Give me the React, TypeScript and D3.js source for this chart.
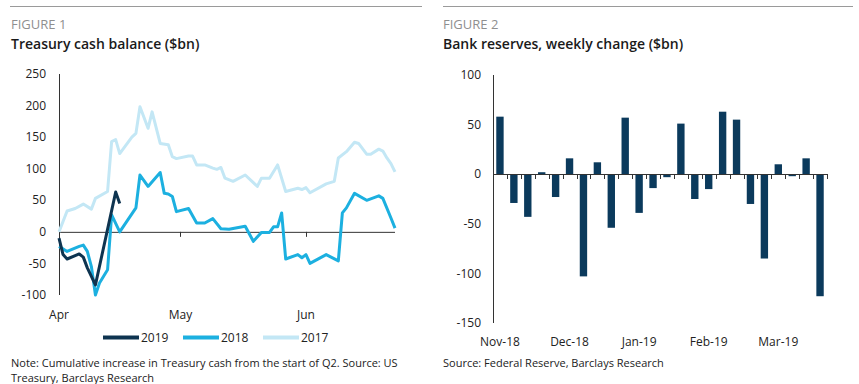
import React from "react";
import * as d3 from "d3";

const W = 859;
const H = 384;
const FONT = "'Open Sans', 'Noto Sans', sans-serif";

// Figure 1: days since 1 April, cumulative Treasury cash change ($bn)
const days2019 = [0, 1, 2, 5, 6, 7, 9, 14, 15];
const vals2019 = [-10, -36, -43, -35, -40, -57, -84, 63, 45];

const days2018 = [0, 2, 5, 6, 7, 8, 9, 10, 12, 13, 15, 19, 20, 22, 25, 26, 27, 28, 29, 32, 34, 36, 38, 40, 42, 46, 47, 48, 50, 52, 53, 54, 55, 56, 59, 60, 61, 62, 66, 69, 70, 71, 73, 76, 79, 80, 82, 83];
const vals2018 = [-23, -31, -23, -21, -31, -55, -100, -81, -60, 27, 0, 38, 90, 72, 94, 61, 60, 56, 32, 37, 14, 14, 21, 5, 4, 9, -3, -15, -1, -1, 8, 8, 30, -43, -36, -41, -36, -50, -36, -46, 30, 38, 61, 50, 57, 53, 22, 6];

const days2017 = [0, 2, 4, 6, 8, 9, 12, 13, 14, 15, 18, 19, 20, 22, 23, 25, 27, 28, 29, 32, 33, 34, 36, 38, 39, 40, 41, 43, 46, 49, 50, 52, 54, 56, 59, 60, 61, 62, 66, 68, 69, 71, 73, 74, 76, 77, 79, 80, 81, 82, 83];
const vals2017 = [0, 33, 37, 44, 36, 53, 64, 143, 146, 124, 150, 156, 198, 164, 190, 140, 138, 119, 116, 120, 120, 106, 106, 101, 99, 102, 85, 80, 90, 72, 85, 85, 106, 64, 69, 67, 70, 62, 76, 80, 117, 127, 142, 140, 123, 123, 131, 128, 117, 108, 95];

const leftTicks = [-100, -50, 0, 50, 100, 150, 200, 250];

// Figure 2: weekly change in bank reserves ($bn)
const weeks = [
  "2018-11-01", "2018-11-08", "2018-11-15", "2018-11-22", "2018-11-29",
  "2018-12-06", "2018-12-13", "2018-12-20", "2018-12-27", "2019-01-03",
  "2019-01-10", "2019-01-17", "2019-01-24", "2019-01-31", "2019-02-07",
  "2019-02-14", "2019-02-21", "2019-02-28", "2019-03-07", "2019-03-14",
  "2019-03-21", "2019-03-28", "2019-04-04", "2019-04-11",
];
const reserves = [58, -29, -43, 2, -23, 16, -103, 12, -54, 57, -39, -14, -3, 51, -25, -15, 63, 55, -30, -85, 10, -2, 16, -123];
const rightTicks = [-150, -100, -50, 0, 50, 100];

const series = [
  { name: "2019", days: days2019, vals: vals2019, color: "#0e3450" },
  { name: "2018", days: days2018, vals: vals2018, color: "#1cb0e0" },
  { name: "2017", days: days2017, vals: vals2017, color: "#c3e7f5" },
];

const start = Date.UTC(2019, 3, 1);
const toDate = (d: number) => new Date(start + d * 864e5);

export default function App() {
  // ---- figure 1 scales
  const x1 = d3.scaleUtc().domain([toDate(0), toDate(83)]).range([59, 395]);
  const y1 = d3.scaleLinear().domain([-100, 250]).range([295, 74]);
  const line = d3
    .line<[number, number]>()
    .x((p) => x1(toDate(p[0])))
    .y((p) => y1(p[1]));
  const months = d3.utcMonth.range(toDate(0), toDate(84));
  const fmtMonth = d3.utcFormat("%b");

  // ---- figure 2 scales
  const x2 = d3.scaleBand<string>().domain(weeks).range([493, 827]).paddingInner(0.47).paddingOuter(0.235);
  const y2 = d3.scaleLinear().domain([-150, 100]).range([323, 75]);
  const fmtWeek = d3.utcFormat("%b-%y");
  const parse = d3.utcParse("%Y-%m-%d");
  const step = x2.step();

  const axisCol = "#333";
  const textCol = "#222";

  return (
    <svg
      width={W}
      height={H}
      style={{ position: "absolute", left: 0, top: 0, background: "#fff" }}
      fontFamily={FONT}
    >
      {/* ---------- FIGURE 1 ---------- */}
      <line x1={10} x2={422} y1={6.5} y2={6.5} stroke="#9a9a9a" />
      <text x={11} y={29} fontSize={13} fill="#8f8f8f">FIGURE 1</text>
      <text x={11} y={49} fontSize={14} fontWeight={600} fill="#1a1a1a">Treasury cash balance ($bn)</text>

      {leftTicks.map((t) => (
        <text key={t} x={46} y={y1(t)} dy="0.35em" textAnchor="end" fontSize={12} fill={textCol}>
          {t}
        </text>
      ))}
      <line x1={59.5} x2={59.5} y1={y1(250)} y2={y1(-100)} stroke={axisCol} />
      <line x1={59} x2={395} y1={y1(0) + 0.5} y2={y1(0) + 0.5} stroke={axisCol} />
      {months.map((m, i) => (
        <g key={i}>
          {i > 0 && (
            <line x1={Math.round(x1(m)) + 0.5} x2={Math.round(x1(m)) + 0.5} y1={y1(0)} y2={y1(0) + 5} stroke={axisCol} />
          )}
          <text x={x1(m)} y={319} textAnchor="middle" fontSize={12} fill={textCol}>
            {fmtMonth(m)}
          </text>
        </g>
      ))}

      {[...series].reverse().map((s) => (
        <path
          key={s.name}
          d={line(s.days.map((d, i) => [d, s.vals[i]] as [number, number])) || ""}
          fill="none"
          stroke={s.color}
          strokeWidth={3}
          strokeLinejoin="round"
        />
      ))}

      {series.map((s, i) => {
        const lx = 103 + i * 80;
        return (
          <g key={s.name}>
            <line x1={lx} x2={lx + 36} y1={337.5} y2={337.5} stroke={s.color} strokeWidth={4} />
            <text x={lx + 38} y={342} fontSize={12} fill={textCol}>
              {s.name}
            </text>
          </g>
        );
      })}

      <text x={11} y={367} fontSize={11} fill={textCol}>
        Note: Cumulative increase in Treasury cash from the start of Q2. Source: US
      </text>
      <text x={11} y={382} fontSize={11} fill={textCol}>
        Treasury, Barclays Research
      </text>

      {/* ---------- FIGURE 2 ---------- */}
      <line x1={443} x2={853} y1={6.5} y2={6.5} stroke="#9a9a9a" />
      <text x={443} y={29} fontSize={13} fill="#8f8f8f">FIGURE 2</text>
      <text x={443} y={49} fontSize={14} fontWeight={600} fill="#1a1a1a">Bank reserves, weekly change ($bn)</text>

      {rightTicks.map((t) => (
        <text key={t} x={481} y={y2(t)} dy="0.35em" textAnchor="end" fontSize={12} fill={textCol}>
          {t}
        </text>
      ))}

      {weeks.map((w, i) => {
        const v = reserves[i];
        return (
          <rect
            key={w}
            x={x2(w)}
            width={x2.bandwidth()}
            y={Math.min(y2(v), y2(0))}
            height={Math.max(1, Math.abs(y2(v) - y2(0)))}
            fill="#0b3a5c"
          />
        );
      })}

      <line x1={493.5} x2={493.5} y1={y2(100)} y2={y2(-150)} stroke={axisCol} />
      <line x1={493} x2={827} y1={Math.round(y2(0)) + 0.5} y2={Math.round(y2(0)) + 0.5} stroke={axisCol} />
      {weeks.map((w, i) => {
        const tx = Math.round((x2(w) as number) - x2.paddingOuter() * step + step) + 0.5;
        return <line key={"t" + i} x1={tx} x2={tx} y1={Math.round(y2(0))} y2={Math.round(y2(0)) + 5} stroke={axisCol} />;
      })}
      {weeks.map((w, i) =>
        i % 5 === 0 ? (
          <text
            key={"l" + i}
            x={(x2(w) as number) + x2.bandwidth() / 2}
            y={346}
            textAnchor="middle"
            fontSize={12}
            fill={textCol}
          >
            {fmtWeek(parse(w) as Date)}
          </text>
        ) : null
      )}

      <text x={443} y={367} fontSize={11} fill={textCol}>
        Source: Federal Reserve, Barclays Research
      </text>
    </svg>
  );
}
